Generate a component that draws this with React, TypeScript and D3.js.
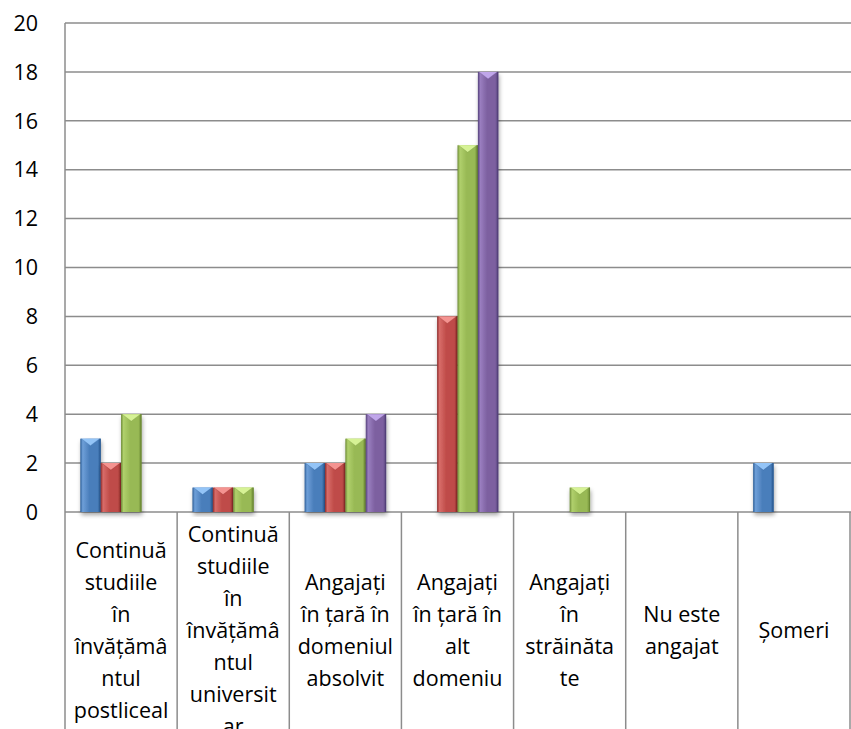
import React, { useEffect, useRef } from 'react';
import * as d3 from 'd3';

// category labels, wrapped the way the original chart wraps them
const categories = ['postliceal', 'universitar', 'domeniul absolvit', 'alt domeniu', 'străinătate', 'neangajat', 'șomeri'];
const categoryLines: string[][] = [
  ['Continuă', 'studiile', 'în', 'învățămâ', 'ntul', 'postliceal'],
  ['Continuă', 'studiile', 'în', 'învățămâ', 'ntul', 'universit', 'ar'],
  ['Angajați', 'în țară în', 'domeniul', 'absolvit'],
  ['Angajați', 'în țară în', 'alt', 'domeniu'],
  ['Angajați', 'în', 'străinăta', 'te'],
  ['Nu este', 'angajat'],
  ['Șomeri'],
];

const seriesNames = ['Seria 1', 'Seria 2', 'Seria 3', 'Seria 4'];
const seriesBlue = [3, 1, 2, 0, 0, 0, 2];
const seriesRed = [2, 1, 2, 8, 0, 0, 0];
const seriesGreen = [4, 1, 3, 15, 1, 0, 0];
const seriesPurple = [0, 0, 4, 18, 0, 0, 0];
const yTicks = [0, 2, 4, 6, 8, 10, 12, 14, 16, 18, 20];

const palette = [
  { dark: '#2a5b94', base: '#4a7ebb', light: '#6e9fd8', tip: '#93c4f7' },
  { dark: '#8c2b29', base: '#bf4b48', light: '#d86c69', tip: '#f49390' },
  { dark: '#6b8934', base: '#98b954', light: '#b0d06c', tip: '#d6f295' },
  { dark: '#523f78', base: '#7d60a0', light: '#9a7ec0', tip: '#c0a6ea' },
];

const W = 851;
const H = 729;

export default function App() {
  const ref = useRef<SVGSVGElement>(null);

  useEffect(() => {
    if (!ref.current) return;
    const svg = d3.select(ref.current);
    svg.selectAll('*').remove();

    const values = [seriesBlue, seriesRed, seriesGreen, seriesPurple];
    const left = 65, right = 850, top = 23, bottom = 512;

    const y = d3.scaleLinear().domain([0, 20]).range([bottom, top]);
    const x = d3.scaleBand<string>().domain(categories).range([left, right]).paddingInner(0).paddingOuter(0);
    // gap width 150% -> 0.75 step of padding each side
    const xs = d3.scaleBand<string>().domain(seriesNames).range([0, x.bandwidth()]).paddingInner(0).paddingOuter(0.75);

    const defs = svg.append('defs');
    palette.forEach((p, i) => {
      const g = defs.append('linearGradient').attr('id', `bar${i}`).attr('x1', 0).attr('x2', 1).attr('y1', 0).attr('y2', 0);
      g.append('stop').attr('offset', '0%').attr('stop-color', p.dark);
      g.append('stop').attr('offset', '12%').attr('stop-color', p.light);
      g.append('stop').attr('offset', '45%').attr('stop-color', p.base);
      g.append('stop').attr('offset', '85%').attr('stop-color', p.base);
      g.append('stop').attr('offset', '100%').attr('stop-color', p.dark);
    });
    const f = defs.append('filter').attr('id', 'shadow').attr('x', '-30%').attr('y', '-10%').attr('width', '160%').attr('height', '130%');
    f.append('feDropShadow').attr('dx', 1).attr('dy', 3).attr('stdDeviation', 2).attr('flood-color', '#000').attr('flood-opacity', 0.35);

    const font = "'Open Sans', sans-serif";

    // gridlines
    svg.append('g')
      .selectAll('line')
      .data(yTicks)
      .join('line')
      .attr('x1', left).attr('x2', W)
      .attr('y1', d => y(d)).attr('y2', d => y(d))
      .attr('stroke', '#8c8c8c').attr('stroke-width', 1.5);

    // y tick labels
    svg.append('g')
      .selectAll('text')
      .data(yTicks)
      .join('text')
      .attr('x', 38).attr('y', d => y(d)).attr('dy', '0.36em')
      .attr('text-anchor', 'end')
      .attr('font-family', font).attr('font-size', 21.5).attr('fill', '#000')
      .text(d => d);

    // vertical axis + category separators running through the label area
    svg.append('line').attr('x1', left).attr('x2', left).attr('y1', top).attr('y2', H)
      .attr('stroke', '#8c8c8c').attr('stroke-width', 1.5);
    svg.append('g')
      .selectAll('line')
      .data(categories.slice(1).concat(['end']))
      .join('line')
      .attr('x1', (d, i) => left + (i + 1) * x.step())
      .attr('x2', (d, i) => left + (i + 1) * x.step())
      .attr('y1', bottom).attr('y2', H)
      .attr('stroke', '#8c8c8c').attr('stroke-width', 1.5);

    // bars
    const bars = svg.append('g');
    values.forEach((vals, si) => {
      const p = palette[si];
      vals.forEach((v, ci) => {
        if (!v) return;
        const x0 = (x(categories[ci]) ?? 0) + (xs(seriesNames[si]) ?? 0);
        const w = xs.bandwidth();
        const y0 = y(v);
        const h = y(0) - y0;
        const g = bars.append('g');
        g.append('rect').attr('x', x0).attr('y', y0).attr('width', w).attr('height', h)
          .attr('fill', `url(#bar${si})`).attr('filter', 'url(#shadow)');
        g.append('path')
          .attr('d', `M${x0 + 1},${y0}L${x0 + w - 1},${y0}L${x0 + w / 2},${y0 + 7}Z`)
          .attr('fill', p.tip);
        g.append('path')
          .attr('d', `M${x0 + 1},${y0}L${x0 + w / 2},${y0 + 7}L${x0 + w - 1},${y0}`)
          .attr('fill', 'none').attr('stroke', p.dark).attr('stroke-opacity', 0.35).attr('stroke-width', 0.8);
        g.append('line').attr('x1', x0 + w - 0.5).attr('x2', x0 + w - 0.5).attr('y1', y0).attr('y2', y0 + h)
          .attr('stroke', p.dark).attr('stroke-width', 1);
      });
    });

    // category labels
    const lineH = 32;
    const center = 630;
    const labels = svg.append('g');
    categoryLines.forEach((lines, ci) => {
      const cx = (x(categories[ci]) ?? 0) + x.bandwidth() / 2;
      const start = center - ((lines.length - 1) * lineH) / 2;
      labels.append('text')
        .attr('text-anchor', 'middle')
        .attr('font-family', font).attr('font-size', 21.5).attr('fill', '#000')
        .selectAll('tspan')
        .data(lines)
        .join('tspan')
        .attr('x', cx)
        .attr('y', (d, i) => start + i * lineH)
        .attr('dy', '0.36em')
        .text(d => d);
    });
  }, []);

  return (
    <div style={{ position: 'absolute', left: 0, top: 0, width: W, height: H, background: '#fff' }}>
      <svg ref={ref} width={W} height={H} style={{ display: 'block' }} />
    </div>
  );
}
